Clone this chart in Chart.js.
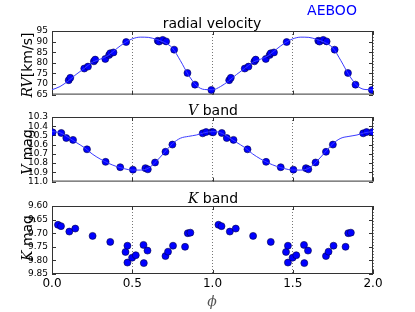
<!DOCTYPE html>
<html>
<head>
<meta charset="utf-8">
<script src="https://cdn.jsdelivr.net/npm/chart.js@4.4.0/dist/chart.umd.min.js"></script>
<style>
body{margin:0;background:#fff;}
#fig{position:relative;width:415px;height:312px;font-family:'DejaVu Sans',sans-serif;}
canvas{position:absolute;left:0;}
.lbl{position:absolute;white-space:nowrap;color:#000;line-height:1;}
.m{font-family:'DejaVu Serif',serif;font-style:italic;}
.rot{transform:translate(-50%,-50%) rotate(-90deg);}
.ctr{transform:translate(-50%,-50%);}
</style>
</head>
<body>
<div id="fig">
  <canvas id="c1" width="415" height="104" style="top:0px"></canvas>
  <canvas id="c2" width="415" height="91" style="top:100px"></canvas>
  <canvas id="c3" width="415" height="122" style="top:190px"></canvas>
  <div class="lbl ctr" style="left:332px;top:10px;font-size:14px;color:#0000ff">AEBOO</div>
  <div class="lbl ctr" style="left:212px;top:23px;font-size:14px">radial velocity</div>
  <div class="lbl ctr" style="left:213px;top:110px;font-size:14px"><span class="m">V</span> band</div>
  <div class="lbl ctr" style="left:213px;top:198px;font-size:14px"><span class="m">K</span> band</div>
  <div class="lbl rot" style="left:27px;top:65px;font-size:14px"><span class="m">RV</span>[km/s]</div>
  <div class="lbl rot" style="left:27px;top:152px;font-size:14px"><span class="m">V</span> mag</div>
  <div class="lbl rot" style="left:27px;top:238px;font-size:14px"><span class="m">K</span> mag</div>
  <div class="lbl ctr m" style="left:212px;top:301px;font-size:14px;color:#555">ϕ</div>
</div>
<script>
// radial velocity (one cycle, repeated at phase + 1)
const rvPhase = [0.104, 0.114, 0.201, 0.224, 0.261, 0.269, 0.332, 0.356, 0.363, 0.383, 0.462, 0.659, 0.667, 0.690, 0.711, 0.761, 0.844, 0.891, 0.993];
const rvValue = [71.8, 72.9, 77.3, 78.2, 80.7, 81.5, 81.8, 83.7, 84.5, 84.9, 89.8, 90.4, 90.0, 90.8, 90.1, 86.2, 75.2, 69.7, 67.2];

// V band
const vPhase = [0.004, 0.058, 0.089, 0.131, 0.218, 0.334, 0.425, 0.504, 0.582, 0.597, 0.642, 0.707, 0.750, 0.939, 0.960, 0.996];
const vMag = [10.466, 10.473, 10.528, 10.548, 10.650, 10.786, 10.844, 10.871, 10.854, 10.867, 10.793, 10.677, 10.599, 10.477, 10.463, 10.463];

// K band
const kPhase = [0.037, 0.056, 0.108, 0.145, 0.253, 0.363, 0.458, 0.470, 0.470, 0.499, 0.522, 0.570, 0.572, 0.595, 0.707, 0.723, 0.754, 0.829, 0.846, 0.862];
const kMag = [9.669, 9.674, 9.694, 9.683, 9.710, 9.732, 9.769, 9.746, 9.808, 9.790, 9.781, 9.743, 9.810, 9.764, 9.784, 9.768, 9.746, 9.750, 9.700, 9.698];

// fitted curves, every 0.05 in phase
const fitPhase = [0, 0.05, 0.1, 0.15, 0.2, 0.25, 0.3, 0.35, 0.4, 0.45, 0.5, 0.55, 0.6, 0.65, 0.7, 0.75, 0.8, 0.85, 0.9, 0.95];
const rvFit = [67.3, 68.8, 71.4, 74.5, 77.3, 80.2, 81.7, 83.5, 86.5, 89.3, 91.3, 92.1, 92.0, 91.0, 89.6, 87.0, 81.0, 74.3, 69.3, 67.4];
const vFit = [10.458, 10.470, 10.520, 10.575, 10.630, 10.700, 10.755, 10.800, 10.835, 10.860, 10.875, 10.875, 10.855, 10.780, 10.685, 10.590, 10.530, 10.510, 10.495, 10.470];

function twoCycles(ph, val) {
    const pts = [];
    for (let c = 0; c < 2; c++) {
        ph.forEach((p, i) => pts.push({x: p + c, y: val[i]}));
    }
    return pts;
}
function fitCurve(val) {
    const pts = twoCycles(fitPhase, val);
    pts.push({x: 2, y: val[0]});
    return pts;
}

const framePlugin = {
    id: 'frame',
    beforeDatasetsDraw(chart) {
        const {ctx, chartArea: a, scales} = chart;
        ctx.save();
        ctx.strokeStyle = '#333';
        ctx.lineWidth = 1;
        ctx.beginPath();
        scales.x.ticks.forEach(t => {
            const px = Math.round(scales.x.getPixelForValue(t.value)) + 0.5;
            ctx.moveTo(px, a.bottom); ctx.lineTo(px, a.bottom - 4);
            ctx.moveTo(px, a.top); ctx.lineTo(px, a.top + 4);
        });
        scales.y.ticks.forEach(t => {
            const py = Math.round(scales.y.getPixelForValue(t.value)) + 0.5;
            ctx.moveTo(a.left, py); ctx.lineTo(a.left + 4, py);
            ctx.moveTo(a.right, py); ctx.lineTo(a.right - 4, py);
        });
        ctx.stroke();
        ctx.strokeRect(a.left + 0.5, a.top + 0.5, a.right - a.left - 1, a.bottom - a.top - 1);
        ctx.restore();
    }
};

function makeChart(id, datasets, yOpt, padTop, xHeight, showX) {
    const ctx = document.getElementById(id).getContext('2d');
    return new Chart(ctx, {
        type: 'scatter',
        data: {datasets: datasets},
        options: {
            responsive: false,
            animation: false,
            layout: {padding: {top: padTop, right: 42, left: 0, bottom: 0}},
            plugins: {legend: {display: false}, tooltip: {enabled: false}},
            scales: {
                x: {
                    min: 0, max: 2,
                    afterFit: s => { s.height = xHeight; },
                    grid: {color: '#777', drawTicks: false, lineWidth: 1},
                    border: {display: false, dash: [1, 2]},
                    ticks: {
                        display: showX, stepSize: 0.5, padding: 3, color: '#000', autoSkip: false,
                        font: {family: 'DejaVu Sans', size: 12},
                        callback: v => v.toFixed(1)
                    }
                },
                y: Object.assign({
                    afterFit: s => { s.width = 52; },
                    grid: {display: false, drawTicks: false},
                    border: {display: false}
                }, yOpt)
            }
        },
        plugins: [framePlugin]
    });
}

const pointStyle = {
    showLine: false, pointRadius: 3.5, pointBackgroundColor: '#0000ff',
    pointBorderColor: '#000044', pointBorderWidth: 0.6
};
const lineStyle = {
    showLine: true, pointRadius: 0, borderColor: '#3a3aff', borderWidth: 1,
    cubicInterpolationMode: 'monotone'
};

const tickFont = {family: 'DejaVu Sans', size: 9};

makeChart('c1', [
    Object.assign({data: fitCurve(rvFit)}, lineStyle),
    Object.assign({data: twoCycles(rvPhase, rvValue)}, pointStyle)
], {
    min: 65, max: 95,
    ticks: {stepSize: 5, padding: 4, autoSkip: false, color: '#000', font: tickFont, callback: v => v.toFixed(0)}
}, 31, 5, false);

makeChart('c2', [
    Object.assign({data: fitCurve(vFit)}, lineStyle),
    Object.assign({data: twoCycles(vPhase, vMag)}, pointStyle)
], {
    min: 10.3, max: 11.0, reverse: true,
    ticks: {stepSize: 0.1, padding: 4, autoSkip: false, color: '#000', font: tickFont, callback: v => v.toFixed(1)}
}, 17, 5, false);

makeChart('c3', [
    Object.assign({data: twoCycles(kPhase, kMag)}, pointStyle)
], {
    min: 9.60, max: 9.85, reverse: true,
    ticks: {stepSize: 0.05, padding: 4, autoSkip: false, color: '#000', font: tickFont, callback: v => v.toFixed(2)}
}, 16, 38, true);
</script>
</body>
</html>
